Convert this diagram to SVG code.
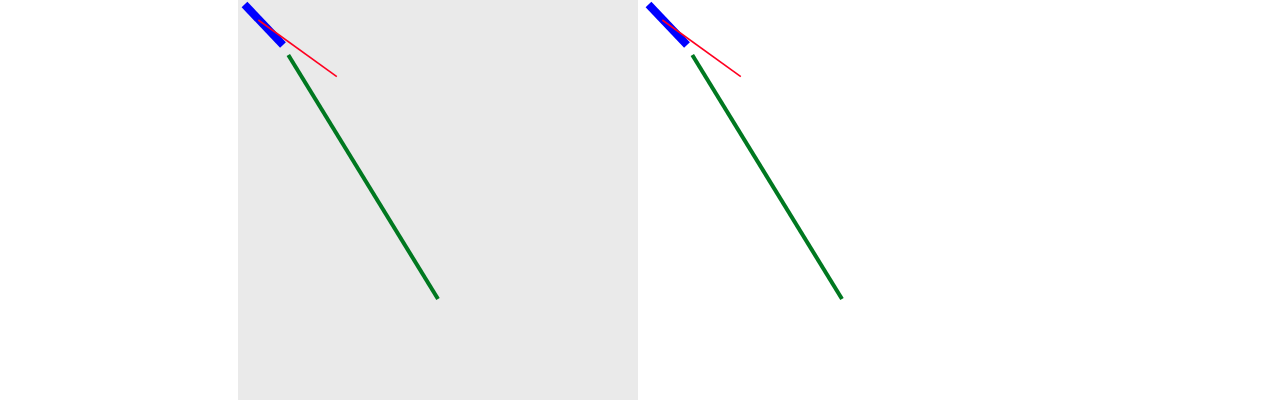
<svg xmlns="http://www.w3.org/2000/svg" width="1280" height="404" viewBox="0 0 1280 404">
<style>
.blue{stroke:#0000ff;stroke-width:8;fill:none}
.red{stroke:#ff0020;stroke-width:1.6;fill:none}
.green{stroke:#007820;stroke-width:4;fill:none}
</style>
<rect width="1280" height="404" fill="#ffffff"/>
<g id="panel1">
<rect x="238" y="0" width="400" height="400" fill="#eaeaea"/>
<line class="blue" x1="244.5" y1="4.5" x2="283" y2="45"/>
<line class="red" x1="258.3" y1="20" x2="336.8" y2="76.7"/>
<line class="green" x1="288.3" y1="55" x2="438" y2="299"/>
</g>
<g id="panel2">
<line class="blue" x1="648.5" y1="4.5" x2="687" y2="45"/>
<line class="red" x1="662.3" y1="20" x2="740.8" y2="76.7"/>
<line class="green" x1="692.3" y1="55" x2="842" y2="299"/>
</g>
</svg>
